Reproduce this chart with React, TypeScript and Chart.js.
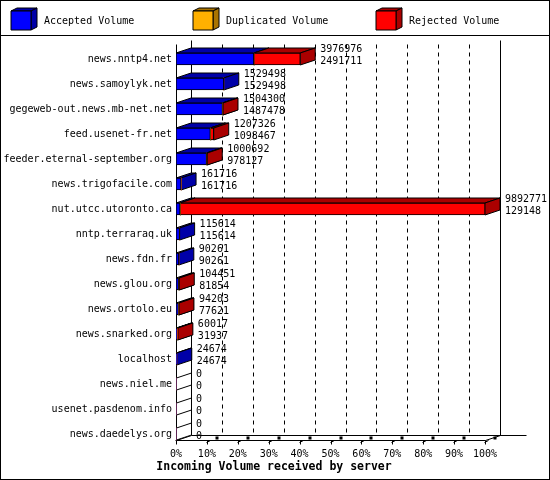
import React, { useEffect, useRef } from "react";
import { Chart, registerables } from "chart.js";

Chart.register(...registerables);

const servers = [
  "news.nntp4.net",
  "news.samoylyk.net",
  "gegeweb-out.news.mb-net.net",
  "feed.usenet-fr.net",
  "feeder.eternal-september.org",
  "news.trigofacile.com",
  "nut.utcc.utoronto.ca",
  "nntp.terraraq.uk",
  "news.fdn.fr",
  "news.glou.org",
  "news.ortolo.eu",
  "news.snarked.org",
  "localhost",
  "news.niel.me",
  "usenet.pasdenom.info",
  "news.daedelys.org",
];
const totalVolume = [3976976, 1529498, 1504300, 1207326, 1000692, 161716, 9892771, 115614, 90261, 104451, 94203, 60017, 24674, 0, 0, 0];
const acceptedVolume = [2491711, 1529498, 1487478, 1098467, 978127, 161716, 129148, 115614, 90261, 81854, 77621, 31937, 24674, 0, 0, 0];
const duplicatedVolume = [0, 0, 0, 0, 0, 0, 0, 0, 0, 0, 0, 0, 0, 0, 0, 0];
const rejectedVolume = [1485265, 0, 16822, 108859, 22565, 0, 9763623, 0, 0, 22597, 16582, 28080, 0, 0, 0, 0];
const percentTicks = [0, 10, 20, 30, 40, 50, 60, 70, 80, 90, 100];
const seriesNames = ["Accepted Volume", "Duplicated Volume", "Rejected Volume"];
const chartTitle = "Incoming Volume received by server";

const FRONT = ["#0000ff", "#ffb000", "#ff0000"];
const DARK = ["#0000a8", "#aa7400", "#aa0000"];
const MONO = "'DejaVu Sans Mono', monospace";
const DX = 15;
const DY = 5;

const maxTotal = Math.max(...totalVolume);

const r = (v: number) => Math.round(v) + 0.5;

function poly(ctx: CanvasRenderingContext2D, pts: number[][], fill: string) {
  ctx.beginPath();
  ctx.moveTo(pts[0][0], pts[0][1]);
  for (let i = 1; i < pts.length; i++) ctx.lineTo(pts[i][0], pts[i][1]);
  ctx.closePath();
  ctx.fillStyle = fill;
  ctx.fill();
  ctx.strokeStyle = "#000";
  ctx.lineWidth = 1;
  ctx.stroke();
}

function line(ctx: CanvasRenderingContext2D, x1: number, y1: number, x2: number, y2: number) {
  ctx.beginPath();
  ctx.moveTo(x1, y1);
  ctx.lineTo(x2, y2);
  ctx.stroke();
}

const innPlugin = {
  id: "inn3d",
  beforeDraw(chart: any) {
    const { ctx, width, height } = chart;
    ctx.save();
    ctx.fillStyle = "#fff";
    ctx.fillRect(0, 0, width, height);
    ctx.restore();
  },
  beforeDatasetsDraw(chart: any) {
    const { ctx, scales } = chart;
    const x = scales.x;
    const y = scales.y;
    const x0 = r(x.getPixelForValue(0));
    const x100 = r(x.getPixelForValue(maxTotal));
    const floorFront = r(y.getPixelForValue(servers.length - 1) + 6);
    const floorBack = floorFront - DY;
    const topFront = r(y.getPixelForValue(0) - 15);
    const topBack = topFront - 4;
    ctx.save();
    ctx.strokeStyle = "#000";
    ctx.lineWidth = 1;
    // dashed grid on back wall
    ctx.setLineDash([4, 4]);
    for (let k = 1; k < percentTicks.length - 1; k++) {
      const gx = r(x.getPixelForValue((maxTotal * percentTicks[k]) / 100) + DX);
      line(ctx, gx, topBack + 4, gx, floorBack);
    }
    ctx.setLineDash([]);
    // walls and floor
    line(ctx, x0 + DX, topBack, x0 + DX, floorBack);
    line(ctx, x100 + DX, topBack, x100 + DX, floorBack);
    line(ctx, x0, topFront, x0, floorFront + 4);
    line(ctx, x0 + DX, floorBack, x100 + DX + 26, floorBack);
    line(ctx, x0 - 1, floorFront, x100, floorFront);
    line(ctx, x0, floorFront, x0 + DX, floorBack);
    line(ctx, x100, floorFront, x100 + DX, floorBack);

    // 3D faces of bars
    for (let i = 0; i < servers.length; i++) {
      let any = false;
      for (let d = 0; d < chart.data.datasets.length; d++) {
        const v = chart.data.datasets[d].data[i];
        if (!v) continue;
        any = true;
        const el = chart.getDatasetMeta(d).data[i];
        const p = el.getProps(["x", "y", "base", "height"], true);
        const b = Math.min(p.x, p.base);
        const e = Math.max(p.x, p.base);
        const top = p.y - p.height / 2;
        const bot = p.y + p.height / 2;
        poly(ctx, [[b, top], [e, top], [e + DX, top - DY], [b + DX, top - DY]], DARK[d]);
        poly(ctx, [[e, top], [e + DX, top - DY], [e + DX, bot - DY], [e, bot]], DARK[d]);
      }
      if (!any) {
        const cy = y.getPixelForValue(i);
        const top = cy - 6;
        const bot = cy + 6;
        poly(ctx, [[x0, top], [x0 + DX, top - DY], [x0 + DX, bot - DY], [x0, bot]], "#fff");
      }
    }
    ctx.restore();
  },
  afterDatasetsDraw(chart: any) {
    const { ctx, scales, width, height } = chart;
    const x = scales.x;
    const y = scales.y;
    const floorFront = r(y.getPixelForValue(servers.length - 1) + 6);
    ctx.save();
    ctx.fillStyle = "#000";
    ctx.strokeStyle = "#000";
    ctx.lineWidth = 1;
    // value labels
    ctx.font = `10px ${MONO}`;
    ctx.textBaseline = "middle";
    ctx.textAlign = "left";
    for (let i = 0; i < servers.length; i++) {
      const cy = y.getPixelForValue(i);
      const ex = x.getPixelForValue(totalVolume[i]) + DX + 5;
      ctx.fillText(String(totalVolume[i]), ex, cy - 9.5);
      ctx.fillText(String(acceptedVolume[i]), ex, cy + 2.5);
    }
    // tick marks
    for (let k = 1; k < percentTicks.length; k++) {
      const tx = r(x.getPixelForValue((maxTotal * percentTicks[k]) / 100));
      line(ctx, tx, floorFront, tx, floorFront + 4);
      line(ctx, tx - 1, floorFront + 2, tx + 3, floorFront);
      ctx.fillRect(tx + 8, floorFront - 4, 3, 3);
    }
    // title
    ctx.font = `bold 11.5px ${MONO}`;
    ctx.textAlign = "center";
    ctx.fillText(chartTitle, 274, 467);
    // legend
    const boxX = [11, 193, 376];
    ctx.font = `10px ${MONO}`;
    ctx.textAlign = "left";
    chart.data.datasets.forEach((ds: any, d: number) => {
      const bx = boxX[d];
      const top = 11;
      const bot = 30;
      const right = bx + 20;
      poly(ctx, [[bx, top], [right, top], [right + 6, top - 3], [bx + 6, top - 3]], DARK[d]);
      poly(ctx, [[right, top], [right + 6, top - 3], [right + 6, bot - 3], [right, bot]], DARK[d]);
      poly(ctx, [[bx, top], [right, top], [right, bot], [bx, bot]], FRONT[d]);
      ctx.fillStyle = "#000";
      ctx.fillText(ds.label, bx + 33, 21);
    });
    // borders
    ctx.strokeRect(0.5, 0.5, width - 1, height - 1);
    line(ctx, 0, 35.5, width, 35.5);
    ctx.restore();
  },
};

export default function App() {
  const ref = useRef<HTMLCanvasElement | null>(null);
  useEffect(() => {
    document.body.style.margin = "0";
    if (!ref.current) return;
    const series = [acceptedVolume, duplicatedVolume, rejectedVolume];
    const chart = new Chart(ref.current, {
      type: "bar",
      data: {
        labels: servers,
        datasets: series.map((data, d) => ({
          label: seriesNames[d],
          data,
          backgroundColor: FRONT[d],
          borderColor: "#000",
          borderWidth: (c: any) => (c.raw ? 1 : 0),
          borderSkipped: false,
          barThickness: 12,
          stack: "s",
        })),
      },
      options: {
        indexAxis: "y",
        animation: false,
        responsive: false,
        devicePixelRatio: 1,
        layout: { padding: { top: 46.5, right: 65, bottom: 0, left: 0 } },
        plugins: { legend: { display: false }, title: { display: false }, tooltip: { enabled: false } },
        scales: {
          x: {
            type: "linear",
            stacked: true,
            min: 0,
            max: maxTotal,
            grid: { display: false, drawTicks: false },
            border: { display: false },
            afterBuildTicks: (s: any) => {
              s.ticks = percentTicks.map((p) => ({ value: (maxTotal * p) / 100 }));
            },
            afterFit: (s: any) => {
              s.height = 33.5;
            },
            ticks: {
              autoSkip: false,
              maxRotation: 0,
              padding: 2,
              color: "#000",
              font: { family: MONO, size: 10 },
              callback: (v: any) => Math.round((Number(v) / maxTotal) * 100) + "%",
            },
          },
          y: {
            type: "category",
            stacked: true,
            grid: { display: false, drawTicks: false },
            border: { display: false },
            afterFit: (s: any) => {
              s.width = 176;
            },
            ticks: {
              autoSkip: false,
              padding: 4,
              color: "#000",
              font: { family: MONO, size: 10 },
            },
          },
        },
      },
      plugins: [innPlugin],
    } as any);
    return () => chart.destroy();
  }, []);
  return <canvas ref={ref} width={550} height={480} style={{ display: "block", width: 550, height: 480 }} />;
}
